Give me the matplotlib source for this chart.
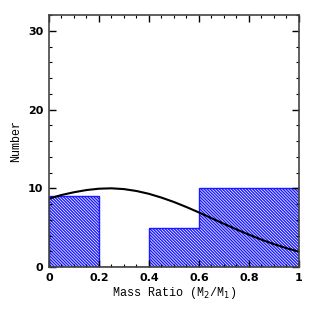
import matplotlib
matplotlib.use("Agg")
import matplotlib.pyplot as plt
from matplotlib.ticker import MultipleLocator

bin_edges = [0.0, 0.2, 0.4, 0.6, 0.8, 1.0]
counts = [9, 0, 5, 10, 10]

curve_x = [0.00, 0.05, 0.10, 0.15, 0.20, 0.25, 0.30, 0.35, 0.40, 0.45, 0.50,
           0.55, 0.60, 0.65, 0.70, 0.75, 0.80, 0.85, 0.90, 0.95, 1.00]
curve_y = [8.7, 9.15, 9.5, 9.78, 9.95, 10.0, 9.9, 9.66, 9.3, 8.82, 8.26,
           7.62, 6.93, 6.21, 5.49, 4.78, 4.11, 3.48, 2.91, 2.40, 1.95]

plt.rcParams['hatch.linewidth'] = 1.0
plt.rcParams['font.family'] = ['DejaVu Sans']

fig = plt.figure(figsize=(3.16, 3.16), dpi=100)
ax = fig.add_axes([0.155, 0.155, 0.791, 0.797])

ax.hist(bin_edges[:-1], bins=bin_edges, weights=counts, histtype='stepfilled',
        facecolor='white', edgecolor='#1a1aff', hatch='\\' * 11, linewidth=1.0)
ax.plot(curve_x, curve_y, color='black', lw=1.5)

ax.set_xlim(0, 1)
ax.set_ylim(0, 32)
ax.xaxis.set_minor_locator(MultipleLocator(0.05))
ax.yaxis.set_major_locator(MultipleLocator(10))
ax.yaxis.set_minor_locator(MultipleLocator(2))
ax.set_xticks([0, 0.2, 0.4, 0.6, 0.8, 1.0])
ax.set_xticklabels(['0', '0.2', '0.4', '0.6', '0.8', '1'])
ax.tick_params(which='both', direction='in', top=True, right=True,
               labelsize=8, pad=4)
ax.tick_params(which='major', length=5, width=1)
ax.tick_params(which='minor', length=2.5, width=0.8)
for lab in ax.get_xticklabels() + ax.get_yticklabels():
    lab.set_fontweight('bold')
for s in ax.spines.values():
    s.set_linewidth(1.2)
    s.set_color('#444444')
ax.set_xlabel('Mass Ratio (M$_2$/M$_1$)', fontsize=8.5, labelpad=2,
              family='Liberation Mono')
ax.set_ylabel('Number', fontsize=8.5, labelpad=4, family='Liberation Mono')

fig.savefig('out.png', dpi=100)
